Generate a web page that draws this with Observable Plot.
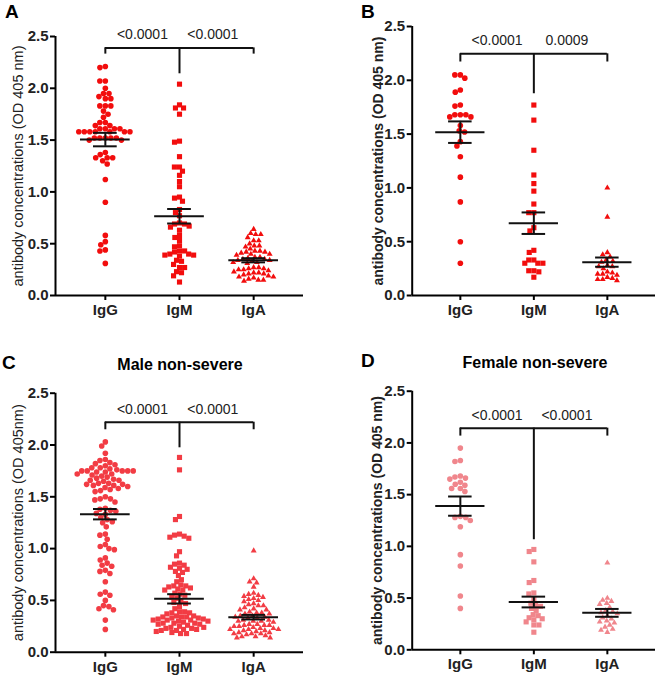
<!DOCTYPE html>
<html>
<head>
<meta charset="utf-8">
<script src="https://cdn.jsdelivr.net/npm/d3@7"></script>
<script src="https://cdn.jsdelivr.net/npm/@observablehq/plot@0.6"></script>
<style>
  body { margin: 0; background: #fff; font-family: Arial, "Liberation Sans", sans-serif; }
  #root { position: relative; width: 661px; height: 679px; overflow: hidden; }
  .panel { position: absolute; }
  .panel svg { position: absolute; left: 0; top: 0; }
  .letter { position: absolute; font-weight: bold; font-size: 19px; line-height: 1; color: #000; }
  .ptitle { position: absolute; font-weight: bold; font-size: 16px; line-height: 1; white-space: nowrap; transform: translate(-50%, -50%); color: #000; }
</style>
</head>
<body>
<div id="root"></div>
<script>
// ---------- data ----------
const categories = ["IgG", "IgM", "IgA"];
const yTicks = [0, 0.5, 1.0, 1.5, 2.0, 2.5];

// Panel A
const aIgG = [2.21, 2.20, 2.07, 2.07, 2.00, 1.95, 1.95, 1.92, 1.90, 1.90, 1.83, 1.83, 1.83, 1.78, 1.75, 1.72, 1.67, 1.67, 1.64, 1.64, 1.61, 1.61, 1.61, 1.61, 1.58, 1.58, 1.58, 1.58, 1.58, 1.58, 1.58, 1.52, 1.52, 1.52, 1.52, 1.52, 1.50, 1.50, 1.38, 1.36, 1.33, 1.33, 1.33, 1.30, 1.27, 1.12, 0.90, 0.58, 0.52, 0.49, 0.44, 0.43, 0.31];
const aIgM = [2.04, 1.84, 1.81, 1.81, 1.75, 1.49, 1.48, 1.34, 1.24, 1.24, 1.20, 1.16, 1.10, 1.05, 0.95, 0.94, 0.91, 0.83, 0.80, 0.77, 0.70, 0.69, 0.69, 0.67, 0.66, 0.63, 0.58, 0.56, 0.53, 0.48, 0.47, 0.43, 0.43, 0.42, 0.40, 0.40, 0.39, 0.39, 0.38, 0.34, 0.33, 0.30, 0.27, 0.27, 0.23, 0.22, 0.19, 0.13];
const aIgA = [0.64, 0.60, 0.59, 0.59, 0.56, 0.53, 0.53, 0.50, 0.48, 0.48, 0.47, 0.45, 0.43, 0.43, 0.42, 0.42, 0.41, 0.40, 0.40, 0.39, 0.37, 0.37, 0.36, 0.35, 0.35, 0.34, 0.34, 0.33, 0.32, 0.32, 0.31, 0.27, 0.27, 0.26, 0.26, 0.25, 0.25, 0.24, 0.23, 0.22, 0.22, 0.21, 0.21, 0.20, 0.19, 0.18, 0.18, 0.17, 0.16, 0.15, 0.15, 0.14];
const aMean = [1.505, 0.765, 0.34];
const aSEM = [0.065, 0.07, 0.02];
const aBracket = [2.39, 2.33, 2.14];      // top, end ticks, IgM drop
const aP = ["<0.0001", "<0.0001"];

// Panel B
const bIgG = [2.05, 2.05, 2.02, 1.91, 1.89, 1.77, 1.76, 1.68, 1.68, 1.68, 1.66, 1.66, 1.58, 1.53, 1.52, 1.43, 1.39, 1.29, 1.10, 0.87, 0.50, 0.30];
const bIgM = [1.77, 1.63, 1.35, 1.12, 1.04, 0.97, 0.85, 0.77, 0.77, 0.63, 0.60, 0.42, 0.40, 0.33, 0.33, 0.30, 0.30, 0.30, 0.23, 0.23, 0.22, 0.17];
const bIgA = [1.00, 0.73, 0.40, 0.38, 0.36, 0.33, 0.32, 0.31, 0.28, 0.27, 0.27, 0.25, 0.22, 0.21, 0.20, 0.20, 0.19, 0.17, 0.16, 0.15, 0.15, 0.14];
const bMean = [1.518, 0.672, 0.31];
const bSEM = [0.10, 0.10, 0.043];
const bBracket = [2.246, 2.17, 1.875];
const bP = ["<0.0001", "0.0009"];

// Panel C
const cIgG = [2.03, 1.99, 1.92, 1.86, 1.85, 1.83, 1.82, 1.81, 1.80, 1.78, 1.78, 1.77, 1.76, 1.75, 1.75, 1.75, 1.75, 1.75, 1.74, 1.74, 1.72, 1.72, 1.71, 1.70, 1.69, 1.68, 1.67, 1.66, 1.66, 1.65, 1.63, 1.63, 1.62, 1.62, 1.61, 1.61, 1.60, 1.59, 1.58, 1.57, 1.56, 1.55, 1.50, 1.48, 1.48, 1.47, 1.45, 1.39, 1.38, 1.37, 1.36, 1.34, 1.33, 1.30, 1.28, 1.26, 1.25, 1.21, 1.14, 1.13, 1.09, 1.04, 1.02, 1.00, 0.99, 0.91, 0.89, 0.86, 0.84, 0.83, 0.79, 0.78, 0.76, 0.68, 0.58, 0.56, 0.55, 0.50, 0.45, 0.44, 0.42, 0.41, 0.31, 0.22];
const cIgM = [1.88, 1.76, 1.31, 1.28, 1.14, 1.13, 1.12, 1.11, 1.10, 0.97, 0.93, 0.86, 0.85, 0.84, 0.82, 0.81, 0.80, 0.78, 0.77, 0.74, 0.70, 0.68, 0.65, 0.64, 0.64, 0.63, 0.62, 0.61, 0.60, 0.60, 0.57, 0.56, 0.55, 0.53, 0.52, 0.49, 0.48, 0.47, 0.44, 0.42, 0.39, 0.39, 0.38, 0.38, 0.37, 0.35, 0.35, 0.34, 0.34, 0.34, 0.33, 0.33, 0.32, 0.32, 0.31, 0.31, 0.31, 0.30, 0.30, 0.29, 0.28, 0.28, 0.28, 0.27, 0.27, 0.26, 0.25, 0.24, 0.24, 0.23, 0.23, 0.22, 0.22, 0.21, 0.21, 0.20, 0.19, 0.18, 0.18];
const cIgA = [0.98, 0.71, 0.68, 0.67, 0.63, 0.57, 0.56, 0.55, 0.54, 0.53, 0.52, 0.51, 0.50, 0.49, 0.47, 0.46, 0.45, 0.45, 0.43, 0.42, 0.41, 0.41, 0.39, 0.38, 0.38, 0.37, 0.37, 0.35, 0.35, 0.34, 0.34, 0.33, 0.33, 0.31, 0.31, 0.30, 0.30, 0.30, 0.29, 0.27, 0.27, 0.26, 0.26, 0.26, 0.25, 0.25, 0.24, 0.23, 0.23, 0.22, 0.22, 0.22, 0.21, 0.21, 0.20, 0.19, 0.19, 0.18, 0.18, 0.18, 0.17, 0.16, 0.15, 0.15, 0.14, 0.14];
const cMean = [1.332, 0.515, 0.338];
const cSEM = [0.05, 0.045, 0.022];
const cBracket = [2.22, 2.147, 1.973];
const cP = ["<0.0001", "<0.0001"];

// Panel D
const dIgG = [1.95, 1.83, 1.82, 1.68, 1.67, 1.66, 1.65, 1.62, 1.60, 1.59, 1.56, 1.56, 1.53, 1.29, 1.28, 1.28, 1.25, 1.19, 0.92, 0.81, 0.52, 0.40];
const dIgM = [0.97, 0.95, 0.85, 0.67, 0.65, 0.55, 0.54, 0.49, 0.45, 0.43, 0.42, 0.40, 0.38, 0.34, 0.33, 0.31, 0.30, 0.29, 0.27, 0.24, 0.24, 0.17];
const dIgA = [0.84, 0.50, 0.48, 0.47, 0.45, 0.44, 0.41, 0.38, 0.37, 0.36, 0.35, 0.33, 0.31, 0.30, 0.28, 0.27, 0.26, 0.24, 0.22, 0.20, 0.19, 0.17];
const dMean = [1.389, 0.462, 0.357];
const dSEM = [0.093, 0.052, 0.038];
const dBracket = [2.143, 2.066, 1.064];
const dP = ["<0.0001", "<0.0001"];

// ---------- layout / style ----------
const FONT = 'Arial, "Liberation Sans", sans-serif';
const symbols = ["circle", "square", "triangle"];
const markR = [2.8, 2.9, 2.2];
const dodgeR = [2.5, 2.3, 2.3];
const MEAN_HALF = 0.335, CAP_HALF = 0.16;
const P_X = [0.5, 1.45];

const panels = [
  {letter: "A", left: 0, top: 0, w: 330, h: 330, ml: 55, mr: 27, mt: 36, mb: 35, p: 0.172,
   color: "#f20d0d", yTitle: "antibody concentrations (OD 405 nm)", titleBold: false, titleDx: -37,
   values: [aIgG, aIgM, aIgA], mean: aMean, sem: aSEM, bracket: aBracket, pv: aP, letterPos: [5, 2]},
  {letter: "B", left: 330, top: 0, w: 331, h: 330, ml: 81.7, mr: 6, mt: 26, mb: 35, p: 0.155,
   color: "#f20d0d", yTitle: "antibody concentrations (OD 405 nm)", titleBold: true, titleDx: -33.7,
   values: [bIgG, bIgM, bIgA], mean: bMean, sem: bSEM, bracket: bBracket, pv: bP, letterPos: [361, 2]},
  {letter: "C", left: 0, top: 340, w: 330, h: 339, ml: 55, mr: 27, mt: 52.7, mb: 27.3, p: 0.172,
   color: "#f23c44", yTitle: "antibody concentrations (OD 405nm)", titleBold: false, titleDx: -37,
   values: [cIgG, cIgM, cIgA], mean: cMean, sem: cSEM, bracket: cBracket, pv: cP, letterPos: [2, 353],
   title: "Male non-severe", titlePos: [180, 365]},
  {letter: "D", left: 330, top: 340, w: 331, h: 339, ml: 81.7, mr: 6, mt: 50.7, mb: 29.7, p: 0.155,
   color: "#f0868c", yTitle: "antibody concentrations (OD 405 nm)", titleBold: true, titleDx: -35,
   values: [dIgG, dIgM, dIgA], mean: dMean, sem: dSEM, bracket: dBracket, pv: dP, letterPos: [361, 351],
   title: "Female non-severe", titlePos: [535, 363]}
];

const root = document.getElementById("root");

for (const cfg of panels) {
  const div = document.createElement("div");
  div.className = "panel";
  Object.assign(div.style, {left: cfg.left + "px", top: cfg.top + "px", width: cfg.w + "px", height: cfg.h + "px"});
  root.appendChild(div);

  const common = {
    width: cfg.w, height: cfg.h,
    marginLeft: cfg.ml, marginRight: cfg.mr, marginTop: cfg.mt, marginBottom: cfg.mb,
    style: {fontFamily: FONT, background: "transparent", overflow: "visible", color: "#000"}
  };

  // dots layer: one facet per category, beeswarm via dodgeX
  const dotMarks = categories.map((c, i) => {
    const rows = d3.sort(cfg.values[i], v => -v).map(v => ({cat: c, v}));
    return Plot.dot(rows, Plot.dodgeX({anchor: "middle", padding: 0.5, r: dodgeR[i]},
      {fx: "cat", y: "v", r: markR[i], symbol: symbols[i], fill: cfg.color, stroke: "none"}));
  });
  const dots = Plot.plot({
    ...common,
    fx: {domain: categories, paddingInner: 0, paddingOuter: cfg.p, round: false, axis: null, label: null},
    y: {domain: [0, 2.5], axis: null},
    marks: dotMarks
  });
  div.appendChild(dots);

  // overlay: axes, mean ± SEM, brackets, texts
  const xDom = [-(cfg.p + 0.5), categories.length - 0.5 + cfg.p];
  const stats = categories.map((c, i) => ({i, mean: cfg.mean[i], sem: cfg.sem[i]}));
  const [bTop, bEnd, bMid] = cfg.bracket;
  const over = Plot.plot({
    ...common,
    x: {domain: xDom, axis: null},
    y: {domain: [0, 2.5], axis: null},
    marks: [
      Plot.ruleY([0], {stroke: "#000", strokeWidth: 2}),
      Plot.ruleX([xDom[0]], {y1: 0, y2: 2.5, stroke: "#000", strokeWidth: 2}),
      Plot.axisY(yTicks, {tickFormat: d3.format(".1f"), tickSize: 5, tickPadding: 2, strokeWidth: 2,
        fontWeight: "bold", fontSize: 15, label: null, fill: "#222"}),
      Plot.axisX([0, 1, 2], {tickFormat: i => categories[i], tickSize: 5, tickPadding: 4, strokeWidth: 2,
        fontWeight: "bold", fontSize: 15, label: null, fill: "#222"}),
      // mean and SEM
      Plot.ruleY(stats, {y: "mean", x1: d => d.i - MEAN_HALF, x2: d => d.i + MEAN_HALF, stroke: "#111", strokeWidth: 2}),
      Plot.ruleX(stats, {x: "i", y1: d => d.mean - d.sem, y2: d => d.mean + d.sem, stroke: "#111", strokeWidth: 2}),
      Plot.ruleY(stats, {y: d => d.mean + d.sem, x1: d => d.i - CAP_HALF, x2: d => d.i + CAP_HALF, stroke: "#111", strokeWidth: 2}),
      Plot.ruleY(stats, {y: d => d.mean - d.sem, x1: d => d.i - CAP_HALF, x2: d => d.i + CAP_HALF, stroke: "#111", strokeWidth: 2}),
      // significance bracket
      Plot.ruleY([bTop], {x1: 0, x2: 2, stroke: "#111", strokeWidth: 2}),
      Plot.ruleX([0, 2], {y1: bEnd, y2: bTop, stroke: "#111", strokeWidth: 2}),
      Plot.ruleX([1], {y1: bMid, y2: bTop, stroke: "#111", strokeWidth: 2}),
      Plot.text(cfg.pv, {x: (d, i) => P_X[i], y: bTop, dy: -13, fontSize: 14, fill: "#222", textAnchor: "middle"}),
      // y-axis title
      Plot.text([cfg.yTitle], {frameAnchor: "left", rotate: -90, textAnchor: "middle", lineAnchor: "middle",
        dx: cfg.titleDx, fontSize: cfg.titleBold ? 14 : 14.5,
        fontWeight: cfg.titleBold ? "bold" : "normal", fill: "#222"})
    ]
  });
  div.appendChild(over);

  const L = document.createElement("div");
  L.className = "letter";
  L.textContent = cfg.letter;
  L.style.left = cfg.letterPos[0] + "px";
  L.style.top = cfg.letterPos[1] + "px";
  root.appendChild(L);

  if (cfg.title) {
    const T = document.createElement("div");
    T.className = "ptitle";
    T.textContent = cfg.title;
    T.style.left = cfg.titlePos[0] + "px";
    T.style.top = cfg.titlePos[1] + "px";
    root.appendChild(T);
  }
}
</script>
</body>
</html>
